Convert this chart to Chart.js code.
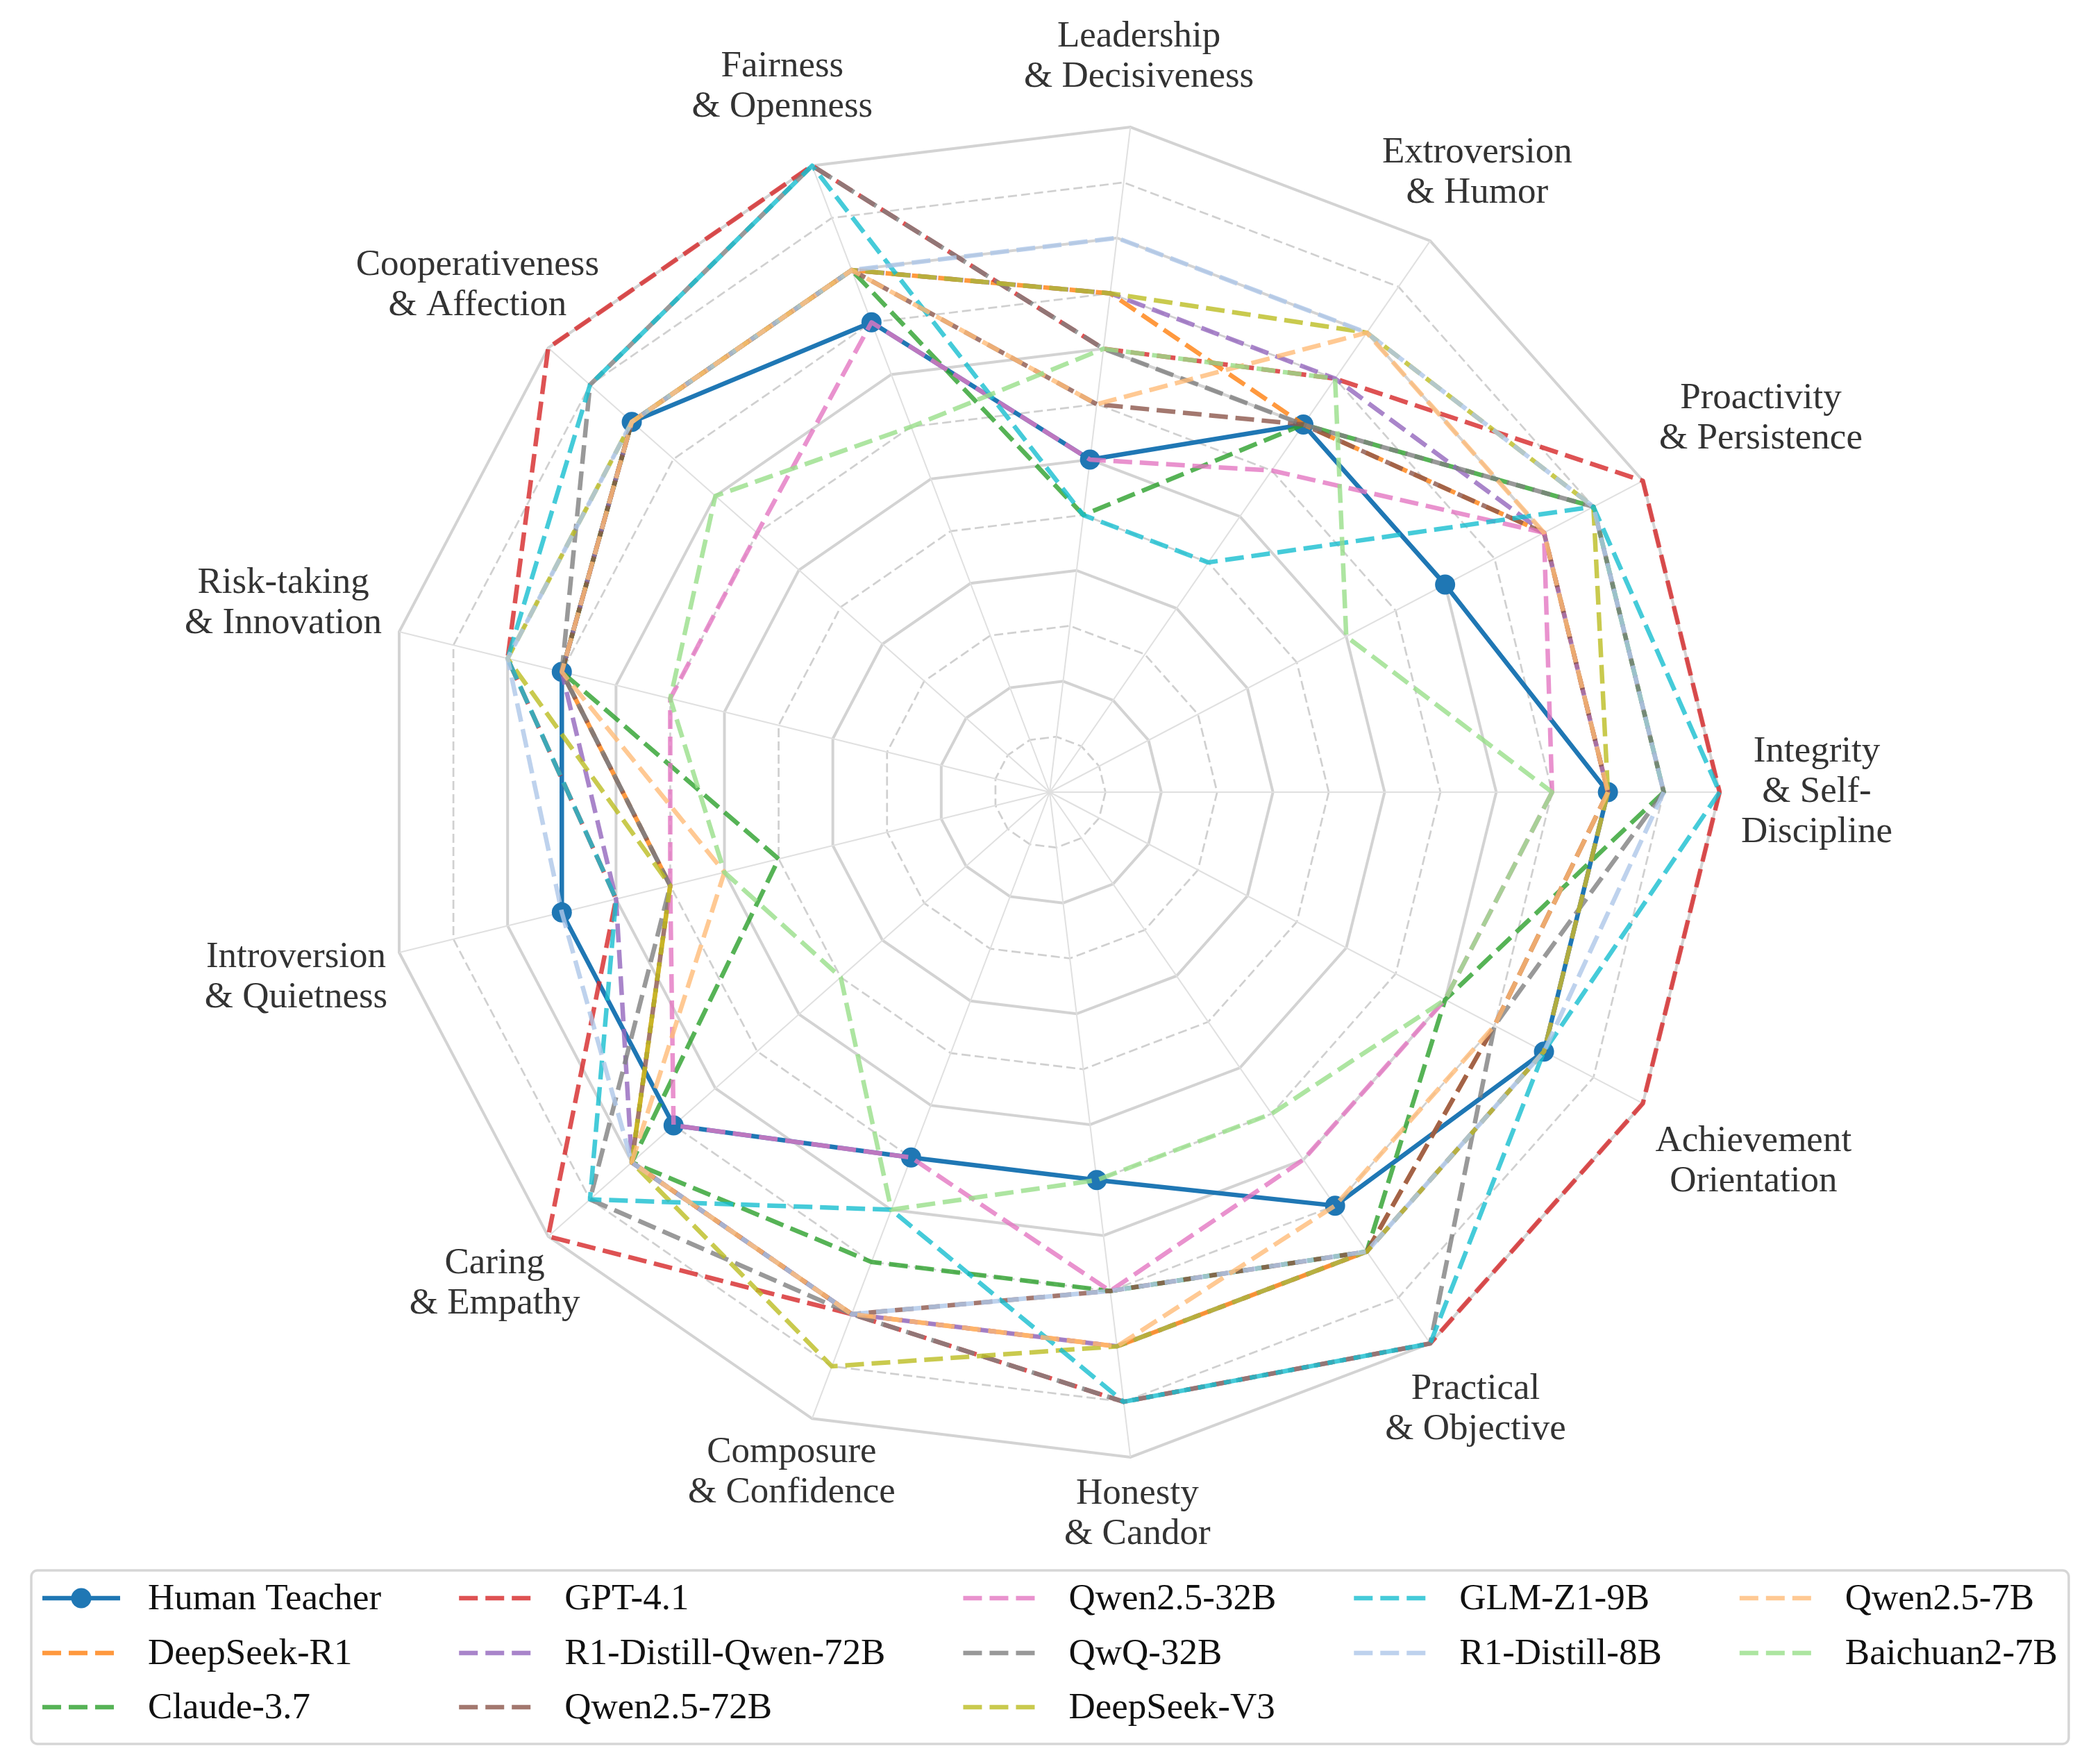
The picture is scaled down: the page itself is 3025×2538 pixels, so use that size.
<!DOCTYPE html>
<html>
<head>
<meta charset="utf-8">
<script src="https://cdn.jsdelivr.net/npm/chart.js@4.4.1/dist/chart.umd.min.js"></script>
<style>
    html, body { margin: 0; padding: 0; background: #fff; }
    canvas { display: block; }
</style>
</head>
<body>
<canvas id="radar" width="3025" height="2538" style="width:3025px;height:2538px"></canvas>
<script>
// Traits, in the order they run round the chart (counter-clockwise from the right)
const traits = [
    ["Integrity", "& Self-", "Discipline"],
    ["Proactivity", "& Persistence"],
    ["Extroversion", "& Humor"],
    ["Leadership", "& Decisiveness"],
    ["Fairness", "& Openness"],
    ["Cooperativeness", "& Affection"],
    ["Risk-taking", "& Innovation"],
    ["Introversion", "& Quietness"],
    ["Caring", "& Empathy"],
    ["Composure", "& Confidence"],
    ["Honesty", "& Candor"],
    ["Practical", "& Objective"],
    ["Achievement", "Orientation"]
];

// Scores per trait, same order as traits
const humanTeacher     = [10,  8,  8,  6,  9, 10,  9,  9,  9,  7,  7,  9, 10];
const deepseekR1       = [10, 10,  8,  9, 10, 10,  9,  7, 10, 10, 10, 10,  9];
const claude37         = [11, 11,  8,  5, 10, 10,  9,  5, 10,  9,  9, 10,  8];
const gpt41            = [12, 12,  9,  8, 12, 12, 10,  8, 12, 10, 11, 12, 12];
const r1DistillQwen72b = [10, 10,  9,  9, 10, 10,  9,  8, 10, 10, 10, 10, 10];
const qwen25_72b       = [10, 10,  8,  7, 10, 10,  9,  7, 10, 10,  9, 10,  9];
const qwen25_32b       = [ 9, 10,  7,  6,  9,  7,  7,  7,  9,  7,  9,  8,  8];
const qwq32b           = [11, 11,  8,  8, 12, 11,  9,  7, 11, 10, 11, 12,  9];
const deepseekV3       = [10, 11, 10,  9, 10, 10, 10,  7, 10, 11, 10, 10, 10];
const glmZ1_9b         = [12, 11,  5,  5, 12, 11, 10,  8, 11,  8, 11, 12, 10];
const r1Distill8b      = [11, 11, 10, 10, 10, 10, 10,  9, 10, 10,  9, 10, 10];
const qwen25_7b        = [10, 10, 10,  7, 10, 10,  9,  6, 10, 10, 10,  9,  9];
const baichuan2_7b     = [ 9,  6,  9,  8,  7,  8,  7,  6,  5,  8,  7,  7,  8];

const seriesNames = ["Human Teacher", "DeepSeek-R1", "Claude-3.7", "GPT-4.1", "R1-Distill-Qwen-72B",
    "Qwen2.5-72B", "Qwen2.5-32B", "QwQ-32B", "DeepSeek-V3", "GLM-Z1-9B", "R1-Distill-8B",
    "Qwen2.5-7B", "Baichuan2-7B"];
const seriesValues = [humanTeacher, deepseekR1, claude37, gpt41, r1DistillQwen72b, qwen25_72b,
    qwen25_32b, qwq32b, deepseekV3, glmZ1_9b, r1Distill8b, qwen25_7b, baichuan2_7b];

const seriesColors = ["#1f77b4", "#ff7f0e", "#2ca02c", "#d62728", "#9467bd", "#8c564b",
    "#e377c2", "#7f7f7f", "#bcbd22", "#17becf", "#aec7e8", "#ffbb78", "#98df8a"];

// Chart.js goes clockwise, the original goes counter-clockwise
const chartOrder = [0, 12, 11, 10, 9, 8, 7, 6, 5, 4, 3, 2, 1];
const inChartOrder = arr => chartOrder.map(k => arr[k]);

// How far each trait label sits outside the outer ring
const labelGap = [140, 192, 119, 102, 121, 136, 172, 153, 103, 83, 83, 115, 180];

const FONT = '"Liberation Serif", "Times New Roman", serif';
const DASH = [27, 11];

function withAlpha(hex, a) {
    const n = parseInt(hex.slice(1), 16);
    return `rgba(${(n >> 16) & 255}, ${(n >> 8) & 255}, ${n & 255}, ${a})`;
}

// Draw the trait names, each line centred
const traitLabels = {
    id: 'traitLabels',
    afterDraw(chart) {
        const scale = chart.scales.r;
        const ctx = chart.ctx;
        const lineH = 58;
        ctx.save();
        ctx.font = '53px ' + FONT;
        ctx.fillStyle = '#333333';
        ctx.textAlign = 'center';
        ctx.textBaseline = 'middle';
        chartOrder.forEach((k, j) => {
            const lines = traits[k];
            const p = scale.getPointPosition(j, scale.drawingArea + labelGap[k]);
            const top = p.y - (lines.length - 1) * lineH / 2;
            lines.forEach((t, n) => ctx.fillText(t, p.x, top + n * lineH));
        });
        ctx.restore();
    }
};

// Framed legend, 5 columns filled top to bottom (matplotlib ncol=5 style)
const gridLegend = {
    id: 'gridLegend',
    afterDraw(chart) {
        const ctx = chart.ctx;
        const sets = chart.data.datasets;
        const ncol = 5;
        const nrow = Math.ceil(sets.length / ncol);
        const fullCols = sets.length - (nrow - 1) * ncol;
        const handle = 112, textPad = 40, colGap = 112, pad = 16;
        const rowY = [2302, 2381, 2459];
        const frameTop = 2262, frameBottom = 2512;

        // split the series into columns
        const columns = [];
        let start = 0;
        for (let c = 0; c < ncol; c++) {
            const n = c < fullCols ? nrow : nrow - 1;
            columns.push(sets.slice(start, start + n));
            start += n;
        }

        ctx.save();
        ctx.font = '53px ' + FONT;
        const colW = columns.map(col =>
            handle + textPad + Math.max(...col.map(ds => ctx.measureText(ds.label).width)));
        const inner = colW.reduce((a, b) => a + b, 0) + colGap * (ncol - 1);
        const left = chart.width / 2 - inner / 2;

        // frame
        ctx.beginPath();
        ctx.roundRect(left - pad, frameTop, inner + 2 * pad, frameBottom - frameTop, 9);
        ctx.fillStyle = 'rgba(255,255,255,0.8)';
        ctx.fill();
        ctx.strokeStyle = '#d6d6d6';
        ctx.lineWidth = 3.5;
        ctx.stroke();

        let x = left;
        columns.forEach((col, c) => {
            col.forEach((ds, r) => {
                const y = rowY[r];
                ctx.beginPath();
                ctx.setLineDash(ds.borderDash || []);
                ctx.strokeStyle = ds.borderColor;
                ctx.lineWidth = ds.borderWidth;
                ctx.moveTo(x, y);
                ctx.lineTo(x + handle, y);
                ctx.stroke();
                ctx.setLineDash([]);
                if (ds.pointRadius > 0) {
                    ctx.beginPath();
                    ctx.arc(x + handle / 2, y, ds.pointRadius, 0, Math.PI * 2);
                    ctx.fillStyle = ds.pointBackgroundColor;
                    ctx.fill();
                }
                ctx.fillStyle = '#111111';
                ctx.textAlign = 'left';
                ctx.textBaseline = 'middle';
                ctx.fillText(ds.label, x + handle + textPad, y + 2);
            });
            x += colW[c] + colGap;
        });
        ctx.restore();
    }
};

const datasets = seriesNames.map((name, i) => {
    const human = i === 0;
    return {
        label: name,
        data: inChartOrder(seriesValues[i]),
        borderColor: human ? seriesColors[i] : withAlpha(seriesColors[i], 0.8),
        borderWidth: 6.5,
        borderDash: human ? [] : DASH,
        borderJoinStyle: 'round',
        pointRadius: human ? 14.5 : 0,
        pointHoverRadius: human ? 14.5 : 0,
        pointBackgroundColor: seriesColors[i],
        pointBorderWidth: 0,
        fill: false,
        // first series at the bottom, like matplotlib
        order: -i
    };
});

const ctx = document.getElementById('radar').getContext('2d');
const chart = new Chart(ctx, {
    type: 'radar',
    data: {
        labels: chartOrder.map(k => traits[k].join(' ')),
        datasets: datasets
    },
    options: {
        responsive: false,
        devicePixelRatio: 1,
        animation: false,
        layout: {
            padding: { top: 176, bottom: 432, left: 0, right: 0 }
        },
        plugins: {
            legend: { display: false },
            tooltip: { enabled: false }
        },
        scales: {
            r: {
                min: 0,
                max: 12,
                startAngle: 90,
                ticks: { display: false, stepSize: 1 },
                pointLabels: { display: false },
                angleLines: { color: '#e0e0e0', lineWidth: 2 },
                grid: {
                    color: c => c.index % 2 ? '#d0d0d0' : '#d3d3d3',
                    lineWidth: c => c.index % 2 ? 2.7 : 4
                },
                border: {
                    dash: c => c.index % 2 ? [13, 6] : []
                }
            }
        }
    },
    plugins: [traitLabels, gridLegend]
});
</script>
</body>
</html>
